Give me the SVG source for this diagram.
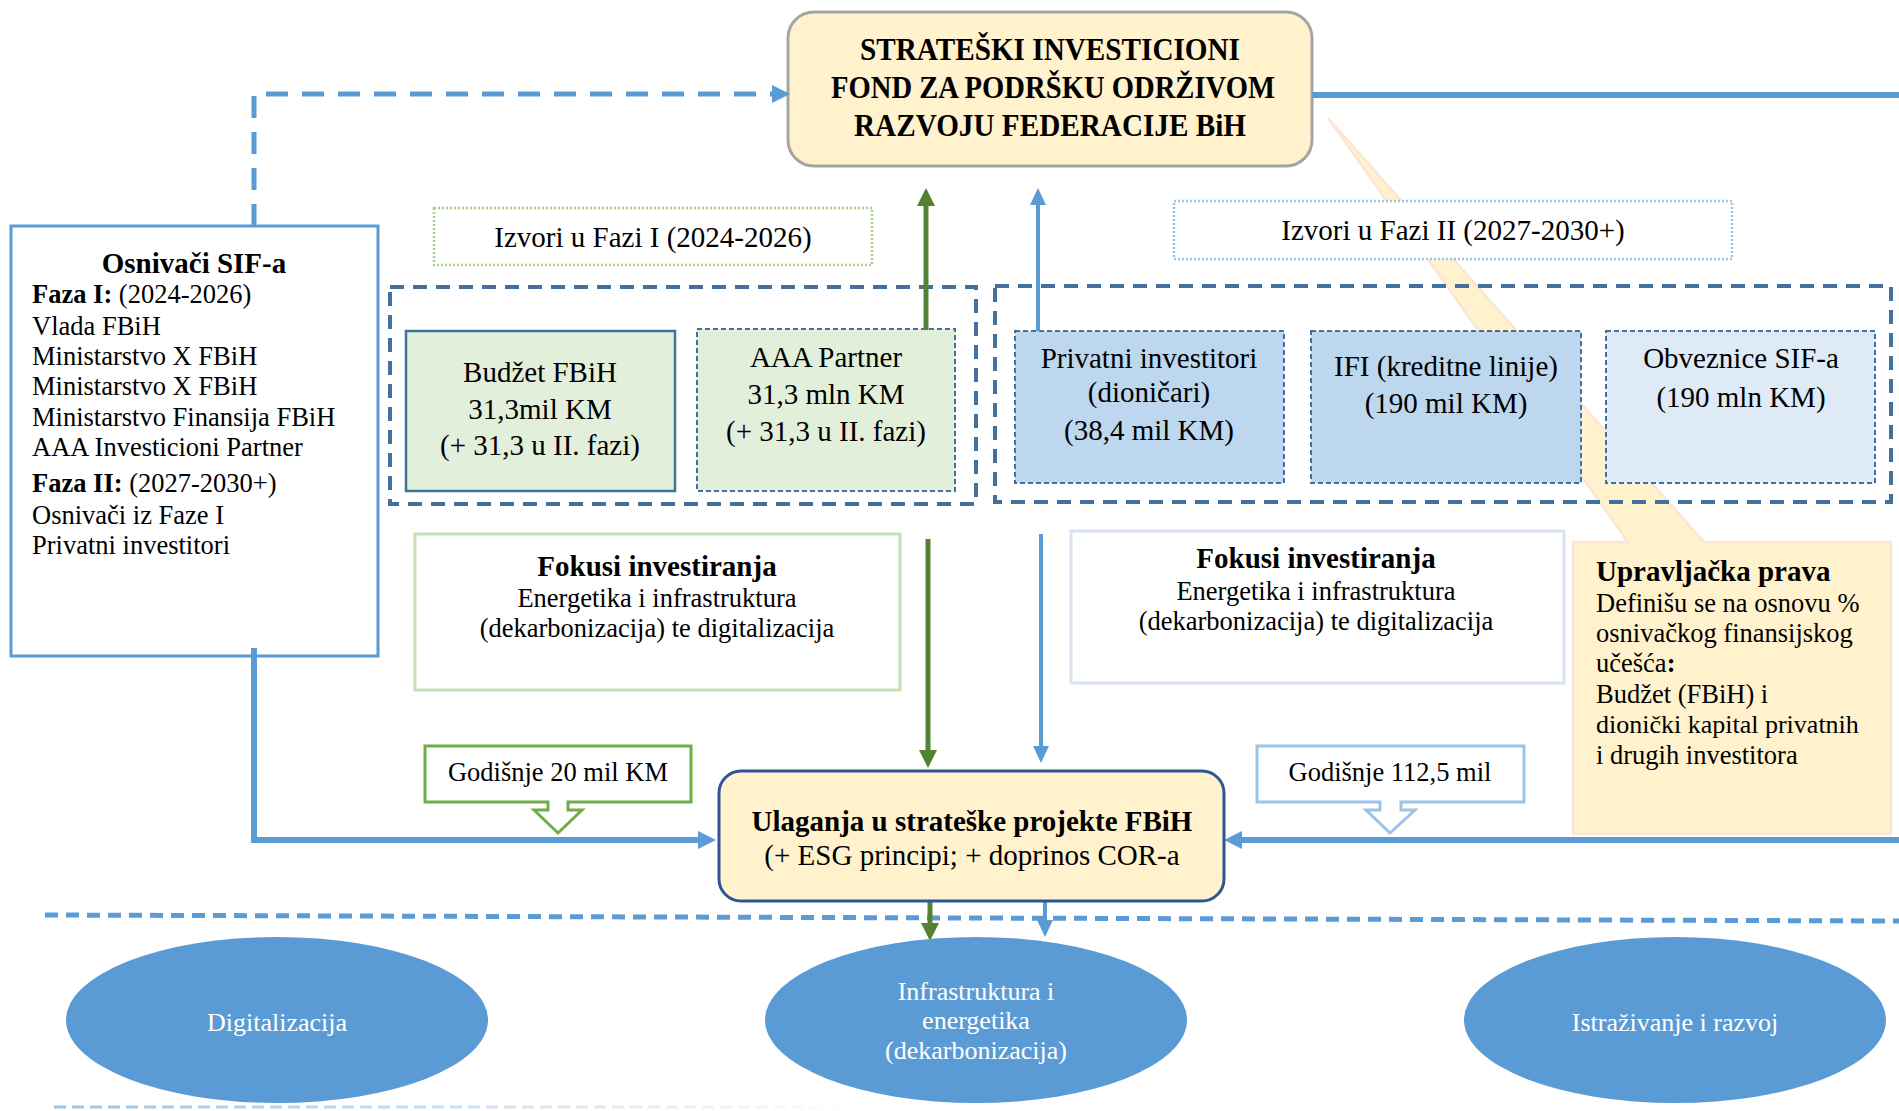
<svg xmlns="http://www.w3.org/2000/svg" width="1899" height="1111" viewBox="0 0 1899 1111">
<defs>
<style>
text{font-family:"Liberation Serif","Times New Roman",serif;fill:#000}
.b{font-weight:bold}
.t29{font-size:29px}
.t27{font-size:26.5px}
.mid{text-anchor:middle}
.wt{fill:#fff;font-size:26px}
.srcBox{stroke:#41719C;stroke-width:2.5}
.dashBox{stroke:#41719C;stroke-width:2;stroke-dasharray:5 3}
.cont{fill:none;stroke:#41719C;stroke-width:4;stroke-dasharray:14 9}
.conn{fill:none}
.ell{fill:#5B9BD5}
</style>
<marker id="aBlue" viewBox="0 0 18 18" refX="0" refY="9" markerWidth="18" markerHeight="18" markerUnits="userSpaceOnUse" orient="auto"><path d="M0,0 L18,9 L0,18 z" fill="#5B9BD5"/></marker>
<marker id="aBlueS" viewBox="0 0 17 16" refX="0" refY="8" markerWidth="17" markerHeight="16" markerUnits="userSpaceOnUse" orient="auto"><path d="M0,0 L17,8 L0,16 z" fill="#5B9BD5"/></marker>
<marker id="aGreen" viewBox="0 0 18 18" refX="0" refY="9" markerWidth="18" markerHeight="18" markerUnits="userSpaceOnUse" orient="auto"><path d="M0,0 L18,9 L0,18 z" fill="#548235"/></marker>
<linearGradient id="fade" gradientUnits="userSpaceOnUse" x1="54" y1="1107" x2="880" y2="1107"><stop offset="0" stop-color="#9DC3E6"/><stop offset="1" stop-color="#9DC3E6" stop-opacity="0"/></linearGradient>
</defs>
<rect width="1899" height="1111" fill="#fff"/>

<g id="callout-upravljacka">
<path d="M1573,542 H1628 L1328,118 L1704,542 H1891 V834 H1573 Z" fill="#FFF2CC" stroke="#FBE5D6" stroke-width="2.5"/>
<text class="b" x="1596" y="581" style="font-size:29px">Upravljačka prava</text>
<text class="t27" x="1596" y="612">Definišu se na osnovu %</text>
<text class="t27" x="1596" y="642">osnivačkog finansijskog</text>
<text class="t27" x="1596" y="672">učešća<tspan class="b">:</tspan></text>
<text class="t27" x="1596" y="703">Budžet (FBiH) i</text>
<text class="t27" x="1596" y="733" style="font-size:26px">dionički kapital privatnih</text>
<text class="t27" x="1596" y="764">i drugih investitora</text>
</g>

<g id="sif-fond">
<rect x="788" y="12" width="524" height="154" rx="26" fill="#FFF2CC" stroke="#A5A5A5" stroke-width="3"/>
<text class="b mid" x="1050" y="60" style="font-size:31px" textLength="380" lengthAdjust="spacingAndGlyphs">STRATEŠKI INVESTICIONI</text>
<text class="b mid" x="1053" y="98" style="font-size:31px" textLength="444" lengthAdjust="spacingAndGlyphs">FOND ZA PODRŠKU ODRŽIVOM</text>
<text class="b mid" x="1050" y="136" style="font-size:31px" textLength="392" lengthAdjust="spacingAndGlyphs">RAZVOJU FEDERACIJE BiH</text>
</g>

<g id="osnivaci">
<rect x="11" y="226" width="367" height="430" fill="#fff" stroke="#5B9BD5" stroke-width="3"/>
<text class="b mid" x="194" y="273" style="font-size:29px">Osnivači SIF-a</text>
<text class="t27" x="32" y="303"><tspan class="b">Faza I:</tspan> (2024-2026)</text>
<text class="t27" x="32" y="335">Vlada FBiH</text>
<text class="t27" x="32" y="365">Ministarstvo X FBiH</text>
<text class="t27" x="32" y="395">Ministarstvo X FBiH</text>
<text class="t27" x="32" y="426">Ministarstvo Finansija FBiH</text>
<text class="t27" x="32" y="456">AAA Investicioni Partner</text>
<text class="t27" x="32" y="492"><tspan class="b">Faza II:</tspan> (2027-2030+)</text>
<text class="t27" x="32" y="524">Osnivači iz Faze I</text>
<text class="t27" x="32" y="554">Privatni investitori</text>
</g>

<g id="izvori-faza1">
<rect x="434" y="208" width="438" height="57" fill="#fff" stroke="#A9D18E" stroke-width="2.5" stroke-dasharray="2 2"/>
<text class="t29 mid" x="653" y="247">Izvori u Fazi I (2024-2026)</text>
</g>
<g id="izvori-faza2">
<rect x="1174" y="201" width="558" height="58" fill="#fff" stroke="#9DC3E6" stroke-width="2.5" stroke-dasharray="2 2"/>
<text class="t29 mid" x="1453" y="240">Izvori u Fazi II (2027-2030+)</text>
</g>

<g id="kontejner-faza1"><rect class="cont" x="390" y="287" width="586" height="217"/></g>
<g id="kontejner-faza2"><rect class="cont" x="995" y="286" width="896" height="216"/></g>

<g id="budzet">
<rect class="srcBox" x="406" y="331" width="269" height="160" fill="#E2EFDA"/>
<text class="t29 mid" x="540" y="382">Budžet FBiH</text>
<text class="t29 mid" x="540" y="419">31,3mil KM</text>
<text class="t29 mid" x="540" y="455">(+ 31,3 u II. fazi)</text>
</g>
<g id="aaa-partner">
<rect class="dashBox" x="697" y="329" width="258" height="162" fill="#E2EFDA"/>
<text class="t29 mid" x="826" y="367">AAA Partner</text>
<text class="t29 mid" x="826" y="404">31,3 mln KM</text>
<text class="t29 mid" x="826" y="441">(+ 31,3 u II. fazi)</text>
</g>
<g id="privatni">
<rect class="dashBox" x="1015" y="331" width="269" height="152" fill="#BDD7EE"/>
<text class="t29 mid" x="1149" y="368">Privatni investitori</text>
<text class="t29 mid" x="1149" y="402">(dioničari)</text>
<text class="t29 mid" x="1149" y="440">(38,4 mil KM)</text>
</g>
<g id="ifi">
<rect class="dashBox" x="1311" y="331" width="270" height="152" fill="#BDD7EE"/>
<text class="t29 mid" x="1446" y="376">IFI (kreditne linije)</text>
<text class="t29 mid" x="1446" y="413">(190 mil KM)</text>
</g>
<g id="obveznice">
<rect class="dashBox" x="1606" y="331" width="269" height="152" fill="#DEEBF7"/>
<text class="t29 mid" x="1741" y="368">Obveznice SIF-a</text>
<text class="t29 mid" x="1741" y="407">(190 mln KM)</text>
</g>

<g id="fokusi-1">
<rect x="415" y="534" width="485" height="156" fill="#fff" stroke="#C5E0B4" stroke-width="3"/>
<text class="b mid" x="657" y="576" style="font-size:29px">Fokusi investiranja</text>
<text class="t27 mid" x="657" y="607">Energetika i infrastruktura</text>
<text class="t27 mid" x="657" y="637">(dekarbonizacija) te digitalizacija</text>
</g>
<g id="fokusi-2">
<rect x="1071" y="531" width="493" height="152" fill="#fff" stroke="#DAE3F3" stroke-width="3"/>
<text class="b mid" x="1316" y="568" style="font-size:29px">Fokusi investiranja</text>
<text class="t27 mid" x="1316" y="600">Energetika i infrastruktura</text>
<text class="t27 mid" x="1316" y="630">(dekarbonizacija) te digitalizacija</text>
</g>

<g id="connectors">
<path class="conn" d="M254,226 V94 H772" stroke="#5B9BD5" stroke-width="5" stroke-dasharray="22 14" marker-end="url(#aBlue)"/>
<path class="conn" d="M1312,95 H1899" stroke="#5B9BD5" stroke-width="6"/>
<path class="conn" d="M254,648 V840 H698" stroke="#5B9BD5" stroke-width="6" marker-end="url(#aBlue)"/>
<path class="conn" d="M1899,840 H1242" stroke="#5B9BD5" stroke-width="6" marker-end="url(#aBlue)"/>
<path class="conn" d="M926,330 V206" stroke="#548235" stroke-width="5" marker-end="url(#aGreen)"/>
<path class="conn" d="M1038,331 V205" stroke="#5B9BD5" stroke-width="4" marker-end="url(#aBlueS)"/>
<path class="conn" d="M928,539 V750" stroke="#548235" stroke-width="5" marker-end="url(#aGreen)"/>
<path class="conn" d="M1041,534 V746" stroke="#5B9BD5" stroke-width="4" marker-end="url(#aBlueS)"/>
<path class="conn" d="M45,915 L1899,921" stroke="#5B9BD5" stroke-width="5" stroke-dasharray="13 8"/>
<path class="conn" d="M930,902 V923" stroke="#548235" stroke-width="5" marker-end="url(#aGreen)"/>
<path class="conn" d="M1045,902 V920" stroke="#5B9BD5" stroke-width="4" marker-end="url(#aBlueS)"/>
<path class="conn" d="M54,1107 H880" stroke="url(#fade)" stroke-width="3" stroke-dasharray="12 6"/>
</g>

<g id="godisnje-20">
<path d="M425,746 H691 V802 H568 V810 H582 L558,833 L534,810 H548 V802 H425 Z" fill="#fff" stroke="#70AD47" stroke-width="3"/>
<text class="t27 mid" x="558" y="781">Godišnje 20 mil KM</text>
</g>
<g id="godisnje-112">
<path d="M1257,746 H1524 V802 H1401 V810 H1415 L1390,833 L1366,810 H1380 V802 H1257 Z" fill="#fff" stroke="#9DC3E6" stroke-width="3"/>
<text class="t27 mid" x="1390" y="781">Godišnje 112,5 mil</text>
</g>

<g id="ulaganja">
<rect x="719" y="771" width="505" height="130" rx="22" fill="#FFF2CC" stroke="#2F5597" stroke-width="3"/>
<text class="b mid" x="972" y="831" style="font-size:29px">Ulaganja u strateške projekte FBiH</text>
<text class="t29 mid" x="972" y="865">(+ ESG principi; + doprinos COR-a</text>
</g>

<g id="digitalizacija">
<ellipse class="ell" cx="277" cy="1020" rx="211" ry="83"/>
<text class="wt mid" x="277" y="1031">Digitalizacija</text>
</g>
<g id="infrastruktura">
<ellipse class="ell" cx="976" cy="1020" rx="211" ry="83"/>
<text class="wt mid" x="976" y="1000">Infrastruktura i</text>
<text class="wt mid" x="976" y="1029">energetika</text>
<text class="wt mid" x="976" y="1059">(dekarbonizacija)</text>
</g>
<g id="istrazivanje">
<ellipse class="ell" cx="1675" cy="1020" rx="211" ry="83"/>
<text class="wt mid" x="1675" y="1031">Istraživanje i razvoj</text>
</g>
</svg>
